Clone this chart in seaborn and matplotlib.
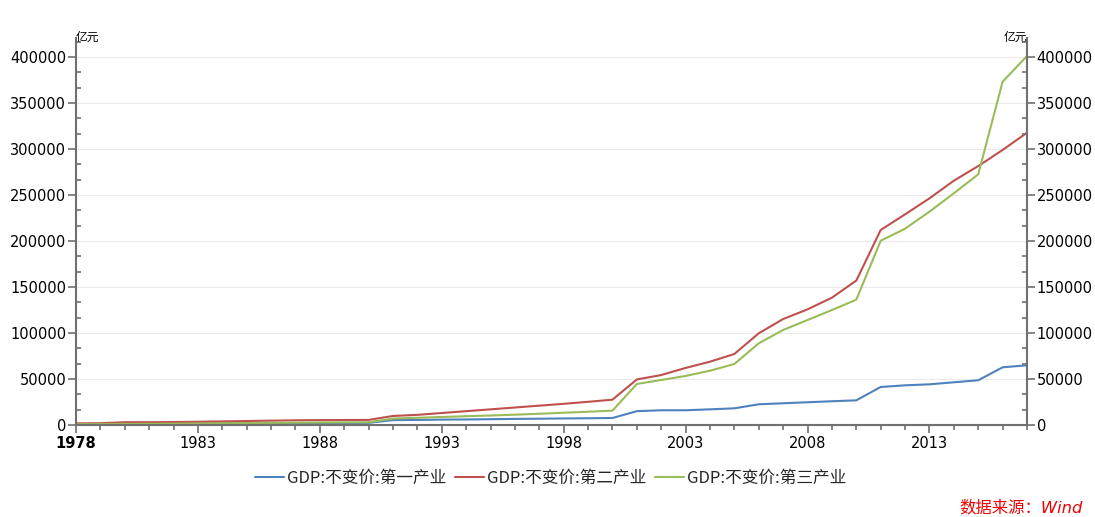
import matplotlib
matplotlib.use('Agg')
import matplotlib.pyplot as plt
import seaborn as sns
import pandas as pd
from matplotlib.ticker import FixedLocator, MultipleLocator, AutoMinorLocator

years = list(range(1978, 2018))
primary = [1020, 1080, 1300, 1380, 1530, 1650, 1850, 1900, 1960, 2050,
           2100, 2170, 2320, 5300, 5500, 5800, 6000, 6300, 6600, 6800,
           7100, 7300, 7600, 15000, 16000, 16000, 17000, 18100, 22500, 23600,
           24700, 25800, 26800, 41300, 43100, 44200, 46400, 48600, 62700, 64900]
secondary = [1750, 1900, 3000, 3050, 3200, 3500, 3900, 4300, 4700, 5100,
             5300, 5400, 5500, 9800, 11000, 13000, 15000, 17000, 19000, 21000,
             23000, 25200, 27500, 49500, 54300, 62000, 68800, 77200, 99700, 115200,
             125700, 138400, 157000, 212000, 229000, 246400, 265600, 281500, 299000, 317700]
tertiary = [900, 950, 1200, 1300, 1450, 1600, 1900, 2100, 2300, 2500,
            2700, 2800, 2900, 7000, 7800, 8700, 9500, 10300, 11200, 12200,
            13300, 14400, 15600, 44600, 48900, 53300, 59000, 66300, 88800, 103300,
            114100, 125000, 136200, 200300, 213400, 231900, 251900, 272500, 373200, 401100]
series_names = ['GDP:不变价:第一产业', 'GDP:不变价:第二产业', 'GDP:不变价:第三产业']
colors = ['#4F81BD', '#C0504D', '#9BBB59']
x_tick_years = [1978, 1983, 1988, 1993, 1998, 2003, 2008, 2013]
y_ticks = [0, 50000, 100000, 150000, 200000, 250000, 300000, 350000, 400000]
unit_label = '亿元'
source_label = '数据来源：Wind'

df = pd.DataFrame({
    'year': years * 3,
    'value': primary + secondary + tertiary,
    'series': [n for n in series_names for _ in years],
})

sns.set_theme(style='white')
plt.rcParams['font.family'] = ['DejaVu Sans', 'Noto Sans CJK SC']

spine_c = '#707070'
fig = plt.figure(figsize=(10.95, 5.17), dpi=100)
ax = fig.add_axes([0.0694, 0.178, 0.8685, 0.749])
sns.lineplot(data=df, x='year', y='value', hue='series', palette=colors,
             linewidth=1.5, ax=ax, legend=True)

ax.set_xlim(1978, 2017)
ax.set_ylim(0, 421000)
ax.set_xlabel('')
ax.set_ylabel('')
ax.xaxis.set_major_locator(FixedLocator(x_tick_years))
ax.xaxis.set_minor_locator(MultipleLocator(1))
ax.set_yticks(y_ticks)
ax.yaxis.set_minor_locator(AutoMinorLocator(3))
ax.yaxis.grid(True, which='major', color='#EBEBEB', lw=0.8)
ax.xaxis.grid(False)
ax.set_axisbelow(True)

for s in ['top', 'right']:
    ax.spines[s].set_visible(False)
for s in ['left', 'bottom']:
    ax.spines[s].set_color(spine_c)
    ax.spines[s].set_linewidth(1.5)

ax.tick_params(axis='x', which='major', direction='out', length=6, width=1.2,
               color=spine_c, labelsize=10.5, labelcolor='black', pad=2, bottom=True)
ax.tick_params(axis='x', which='minor', direction='out', length=3.6, width=1.2,
               color=spine_c, bottom=True)
ax.tick_params(axis='y', which='major', direction='out', length=6, width=1.2,
               color=spine_c, labelsize=10.5, labelcolor='black', pad=1, left=True)
ax.tick_params(axis='y', which='minor', direction='in', length=3.6, width=1.2,
               color=spine_c, left=True, right=False)
ax.set_yticklabels([str(v) for v in y_ticks])
xt = ax.set_xticklabels([str(y) for y in x_tick_years])
xt[0].set_fontweight('bold')

ax2 = ax.twinx()
ax2.set_ylim(ax.get_ylim())
ax2.set_yticks(y_ticks)
ax2.set_yticklabels([str(v) for v in y_ticks])
ax2.yaxis.set_minor_locator(AutoMinorLocator(3))
ax2.grid(False)
for s in ['top', 'left', 'bottom']:
    ax2.spines[s].set_visible(False)
ax2.spines['right'].set_color(spine_c)
ax2.spines['right'].set_linewidth(1.5)
ax2.tick_params(axis='y', which='major', direction='out', length=6, width=1.2,
                color=spine_c, labelsize=10.5, labelcolor='black', pad=1,
                right=True, left=False)
ax2.tick_params(axis='y', which='minor', direction='in', length=3.6, width=1.2,
                color=spine_c, right=True, left=False)

ax.text(0.0, 1.0, unit_label, transform=ax.transAxes, ha='left', va='center',
        fontsize=8.5, family=['Noto Sans CJK SC'], color='black')
ax.text(1.0, 1.0, unit_label, transform=ax.transAxes, ha='right', va='center',
        fontsize=8.5, family=['Noto Sans CJK SC'], color='black')

handles, labels = ax.get_legend_handles_labels()
ax.get_legend().remove()
fig.legend(handles, labels, loc='center', bbox_to_anchor=(0.503, 0.075), ncol=3,
           frameon=False, prop={'family': ['Noto Sans CJK SC'], 'size': 12},
           handlelength=1.7, handletextpad=0.2, columnspacing=0.55)

fig.text(0.989, 0.019, source_label, ha='right', va='center', color='#F00000',
         fontsize=11.8, style='italic', family=['DejaVu Sans', 'Noto Sans CJK SC'])

fig.savefig('out.png', dpi=100)
